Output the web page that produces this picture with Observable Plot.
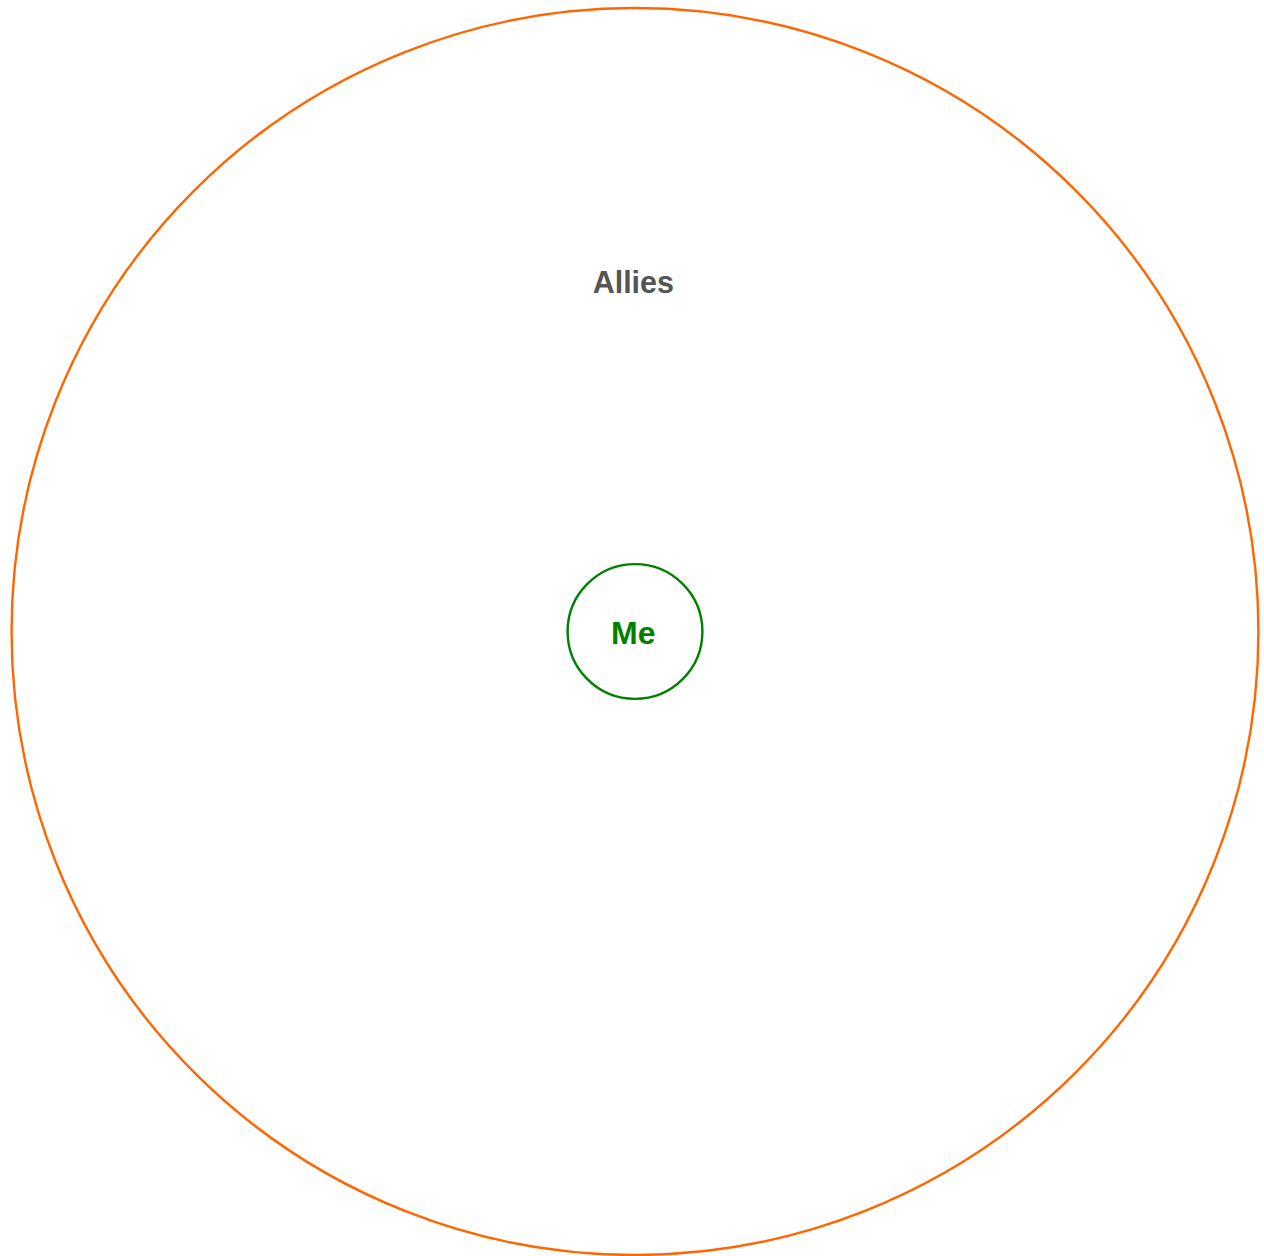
<!DOCTYPE html>
<html>
<head>
<meta charset="utf-8">
<script src="https://cdn.jsdelivr.net/npm/d3@7"></script>
<script src="https://cdn.jsdelivr.net/npm/@observablehq/plot@0.6"></script>
<style>
  html, body { margin: 0; padding: 0; background: #fff; }
  #chart { width: 1264px; height: 1256px; }
</style>
</head>
<body>
<div id="chart"></div>
<script>
// Concentric circles: name, radius (relative units), colour
const circleNames = ["Allies", "Me"];
const circleRadii = [9.25, 1];
const circleColors = ["#ff6600", "#008000"];
// Labels: text, vertical offset from centre (same units), colour
const labelTexts = ["Allies", "Me"];
const labelOffsets = [5.17, -0.04];
const labelColors = ["#555555", "#008000"];
const labelSizes = [30.5, 32];

const circles = circleNames.map((n, i) => ({name: n, r: circleRadii[i], color: circleColors[i], x: 0, y: 0}));
const labels = labelTexts.map((t, i) => ({text: t, y: labelOffsets[i], color: labelColors[i], size: labelSizes[i], x: -0.025}));

const W = 1264, H = 1256;
const mL = 5, mT = 6;
const k = 67.4; // px per unit
const hx = (W - mL) / 2 / k, hy = (H - mT) / 2 / k;

const marks = [
  Plot.dot(circles, {x: "x", y: "y", r: "r", stroke: d => d.color, fill: "none", strokeWidth: 2.4})
];
labels.forEach(l => {
  marks.push(Plot.text([l], {x: "x", y: "y", text: "text", fill: l.color, fontSize: l.size, fontWeight: "bold", fontFamily: "Liberation Sans, Arial, sans-serif"}));
});

const chart = Plot.plot({
  width: W,
  height: H,
  marginLeft: mL, marginTop: mT, marginRight: 0, marginBottom: 0,
  x: {domain: [-hx, hx], axis: null},
  y: {domain: [-hy, hy], axis: null},
  r: {type: "linear", domain: [0, 9.25], range: [0, 9.25 * k]},
  style: {background: "#fff"},
  marks
});
document.getElementById("chart").appendChild(chart);
</script>
</body>
</html>
